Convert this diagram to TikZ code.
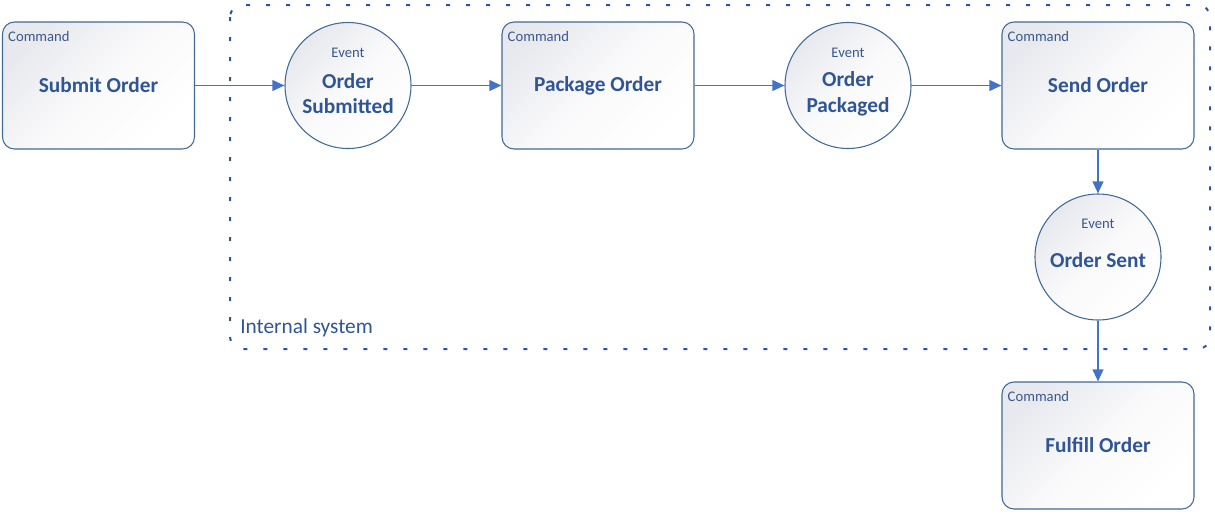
\documentclass[tikz,border=0pt]{standalone}
\usepackage{fontspec}
\setmainfont{Carlito}
\usetikzlibrary{arrows.meta}
\definecolor{boxline}{RGB}{65,105,150}
\definecolor{titleblue}{RGB}{47,85,151}
\definecolor{tagblue}{RGB}{59,89,138}
\definecolor{flowblue}{RGB}{68,114,196}
\definecolor{shadegray}{RGB}{232,233,238}
\tikzset{
  shaded box/.style={draw=boxline, line width=0.8pt, top color=shadegray, bottom color=white, middle color=shadegray!25!white, shading angle=45},
  command/.style={shaded box, rounded corners=9pt, minimum width=144pt, minimum height=95.25pt, title},
  event/.style={shaded box, circle, minimum size=94.5pt, inner sep=0pt},
  tag/.style={font=\fontsize{11}{13}\selectfont, text=tagblue, inner sep=0pt},
  title/.style={font=\fontsize{16}{19}\selectfont\bfseries, text=titleblue, align=center},
  flow/.style={draw=flowblue, line width=1.4pt, -{Triangle[length=9pt,width=8pt]}},
  boundary/.style={draw=titleblue, line width=1.5pt, rounded corners=9pt, dash pattern=on 3pt off 12pt},
}
\begin{document}
\begin{tikzpicture}[x=0.75pt,y=-0.75pt]
  \useasboundingbox (0,0) rectangle (1215,515);
  % internal system frame
  \draw[boundary] (230,5) rectangle (1210,349);
  \node[anchor=west, inner sep=0pt, font=\fontsize{16}{19}\selectfont, text=titleblue] (internal) at (240,328) {Internal system};
  % commands
  \node[command] (submit) at (98.5,85.5) {Submit Order};
  \node[command] (package) at (598,85.5) {Package Order};
  \node[command] (send) at (1098,85.5) {Send Order};
  \node[command] (fulfill) at (1098,445.5) {Fulfill Order};
  \foreach \c in {submit,package,send,fulfill}
    \node[tag, anchor=north west] (\c-tag) at ([xshift=4.5pt,yshift=-7.5pt]\c.north west) {Command};
  % events
  \node[event] (submitted) at (348,85.5) {};
  \node[event] (packaged) at (848,85.5) {};
  \node[event] (sent) at (1098,257) {};
  \foreach \e in {submitted,packaged,sent}
    \node[tag] (\e-tag) at ([yshift=24.75pt]\e.center) {Event};
  \node[title] (submitted-title) at ([yshift=-6.2pt]submitted.center) {Order\\Submitted};
  \node[title] (packaged-title) at ([yshift=-6.2pt]packaged.center) {Order\\Packaged};
  \node[title] (sent-title) at ([yshift=-2.25pt]sent.center) {Order Sent};
  % flow
  \draw[flow] (submit) -- (submitted);
  \draw[flow] (submitted) -- (package);
  \draw[flow] (package) -- (packaged);
  \draw[flow] (packaged) -- (send);
  \draw[flow] (send) -- (sent);
  \draw[flow] (sent) -- (fulfill);
\end{tikzpicture}
\end{document}
